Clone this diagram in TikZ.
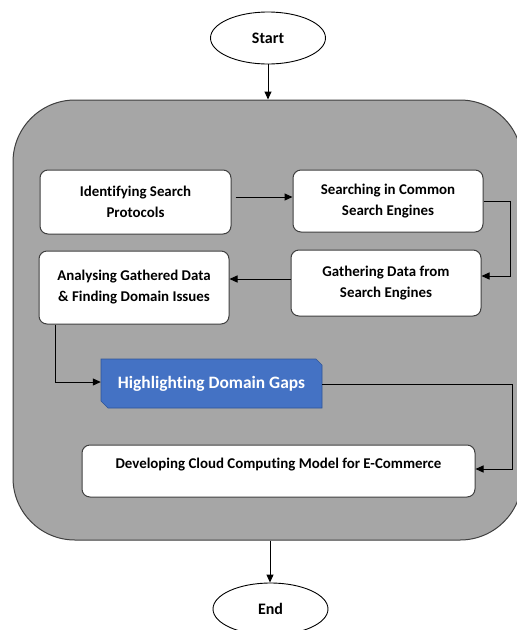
\documentclass[tikz,border=0pt]{standalone}
\usepackage{fontspec}
\setmainfont{Carlito}[Ligatures={NoCommon,NoRare,NoContextual}]
\usetikzlibrary{arrows.meta,shapes.geometric}
\definecolor{panelgray}{HTML}{A6A6A6}
\definecolor{edgegray}{HTML}{3F3F3F}
\definecolor{hlblue}{HTML}{4472C4}
\definecolor{hledge}{HTML}{2F5597}
\tikzset{
  stepbox/.style={draw=edgegray, line width=1pt, fill=white, rounded corners=8pt,
    align=center, inner sep=0pt, font=\fontsize{14.9}{21}\selectfont\bfseries},
  terminal/.style={ellipse, draw=black, line width=0.9pt, fill=white, inner sep=0pt,
    minimum width=115pt, minimum height=52pt, font=\fontsize{16}{19}\selectfont\bfseries},
  conn/.style={draw=black, line width=1pt, -{Triangle[length=8pt,width=7pt]}},
}
\begin{document}
\begin{tikzpicture}[x=1pt,y=-1pt]
\clip (0,0) rectangle (517,630);
\useasboundingbox (0,0) rectangle (517,630);
% panel
\node[draw=edgegray, line width=1pt, fill=panelgray, rounded corners=62pt,
  minimum width=509pt, minimum height=440pt, inner sep=0pt] (panel) at (267.5,320) {};
% terminals
\node[terminal] (start) at (268,38) {Start};
\node[terminal] (end) at (270.5,609) {End};
% steps
\node[stepbox, minimum width=191pt, minimum height=64pt] (s1) at (135.5,202) {Identifying Search\\Protocols};
\node[stepbox, minimum width=190pt, minimum height=62pt] (s2) at (388,201) {Searching in Common\\Search Engines};
\node[stepbox, minimum width=190pt, minimum height=66pt] (s3) at (386,283) {Gathering Data from\\Search Engines};
\node[stepbox, minimum width=190pt, minimum height=73pt] (s4) at (134,287.5) {Analysing Gathered Data\\\& Finding Domain Issues};
% highlighted step
\fill[hlblue] (101,359) -- (316,359) -- (322,365) -- (322,408) -- (108,408) -- (101,401) -- cycle;
\draw[hledge, line width=0.6pt] (101,359) -- (316,359) -- (322,365) -- (322,408) -- (108,408) -- (101,401) -- cycle;
\node[inner sep=0pt, minimum width=221pt, minimum height=49pt, text=white,
  font=\fontsize{17.4}{20}\selectfont\bfseries] (s5) at (211.5,383.5) {Highlighting Domain Gaps};
\node[stepbox, minimum width=393pt, text height=23pt, text depth=29pt] (s6) at (278.5,471) {Developing Cloud Computing Model for E-Commerce};
% connectors
\draw[conn] (start.south) -- (start.south |- panel.north);
\draw[conn] ([xshift=4pt]s1.east |- 0,197) -- (s2.west |- 0,197);
\draw[conn] (s2.east |- 0,201) -- (510,201) |- (s3.east |- 0,276);
\draw[conn] (s3.west |- 0,279) -- (s4.east |- 0,279);
\draw[conn] (55,0 |- s4.south) |- (s5.west |- 0,382);
\draw[conn] (s5.east |- 0,384) -- (512,384) |- (s6.east |- 0,469);
\draw[conn] (panel.south -| 270,0) -- (end.north -| 270,0);
\end{tikzpicture}
\end{document}
